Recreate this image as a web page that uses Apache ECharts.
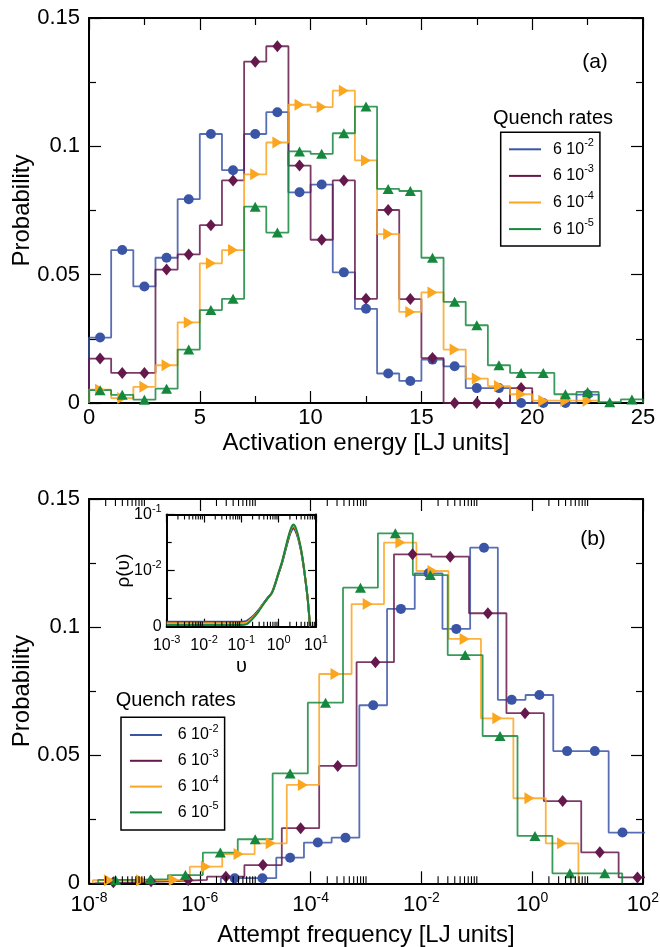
<!DOCTYPE html>
<html><head><meta charset="utf-8">
<script src="https://cdn.jsdelivr.net/npm/echarts@6/dist/echarts.min.js"></script>
<style>html,body{margin:0;padding:0;background:#fff}#c{width:660px;height:947px}</style>
</head><body><div id="c"></div>
<script>
// ---------- data ----------
const SERIES_NAMES = ['6 10^-2', '6 10^-3', '6 10^-4', '6 10^-5'];

// Panel (a): activation energy histograms (bin centres, LJ units)
const E_CENTERS = [0.5,1.5,2.5,3.5,4.5,5.5,6.5,7.5,8.5,9.5,10.5,11.5,12.5,13.5,14.5,15.5,16.5,17.5,18.5,19.5,20.5,21.5,22.5,23.5,24.5];
const A_BLUE   = [0.0255,0.0596,0.0454,0.0566,0.0794,0.1048,0.0907,0.1048,0.1133,0.0821,0.0851,0.0509,0.0367,0.0115,0.0086,0.0169,0.0143,0.0058,0.0058,0,0,0,0.0033];
const A_PURPLE = [0.0173,0.0117,0.0117,0.052,0.0579,0.0693,0.0867,0.133,0.139,0.0925,0.0636,0.0867,0.0406,0.0752,0.0405,0.0175,0,0,0,0.0058];
const A_ORANGE = [0.0052,0.0019,0.0063,0.0147,0.0314,0.0544,0.0596,0.0891,0.1015,0.1162,0.1153,0.1217,0.0945,0.0658,0.0355,0.0431,0.0208,0.0095,0.0066,0.0034,0.0009,0.0009,0.0009];
const A_GREEN  = [0.005,0.0032,0.0013,0.0056,0.0208,0.0362,0.0406,0.0765,0.0664,0.098,0.0971,0.1051,0.1155,0.0834,0.0826,0.0566,0.0394,0.0303,0.0147,0.0117,0.0117,0.0034,0.0043,0.0003,0.0014];

// Panel (b): attempt frequency histograms, bin centres as log10(frequency)
const B_BLUE_NU   = [-5.37,-4.87,-4.37,-3.87,-3.37,-2.87,-2.37,-1.87,-1.37,-0.87,-0.37,0.13,0.63,1.13,1.63,2.13];
const B_BLUE      = [0.002,0.002,0.010,0.0159,0.0178,0.0695,0.1071,0.121,0.0993,0.131,0.0716,0.0735,0.0516,0.0516,0.0198,0.0198];
const B_PURPLE_NU = [-7.56,-6.88,-6.21,-5.53,-4.86,-4.18,-3.51,-2.83,-2.16,-1.48,-0.80,-0.13,0.55,1.22,1.90];
const B_PURPLE    = [0.0004,0.0008,0.0013,0.0026,0.0071,0.0215,0.0458,0.0863,0.1284,0.1275,0.1054,0.0664,0.0321,0.0121,0.0023];
const B_ORANGE_NU = [-7.64,-7.06,-6.47,-5.89,-5.30,-4.72,-4.14,-3.55,-2.97,-2.38,-1.80,-1.22,-0.63,-0.05,0.54];
const B_ORANGE    = [0.0012,0.0012,0.0013,0.0065,0.0114,0.0156,0.0384,0.0817,0.109,0.133,0.1219,0.0954,0.0644,0.0332,0.0156];
const B_GREEN_NU  = [-7.52,-6.89,-6.26,-5.63,-5.00,-4.37,-3.73,-3.10,-2.47,-1.84,-1.21,-0.58,0.05,0.68,1.31];
const B_GREEN     = [0.0013,0.0016,0.0032,0.012,0.0172,0.0429,0.0705,0.1154,0.1366,0.1203,0.0891,0.0575,0.0185,0.0039,0.0039];

// Inset: rho(nu), log10 nu vs log10 rho
const INSET_NU     = [-3,-2,-1,-0.87,-0.7,-0.55,-0.45,-0.3,-0.185,-0.1,-0.01,0.09,0.17,0.25,0.31,0.36,0.395,0.44,0.49,0.53,0.6,0.66,0.72,0.78,0.84];
const INSET_BLUE   = [-2.91,-2.91,-2.91,-2.90,-2.82,-2.71,-2.62,-2.49,-2.40,-2.26,-2.07,-1.87,-1.67,-1.47,-1.34,-1.27,-1.25,-1.28,-1.36,-1.45,-1.65,-1.89,-2.19,-2.52,-3.0];
const INSET_PURPLE = [-2.93,-2.93,-2.93,-2.92,-2.83,-2.72,-2.63,-2.49,-2.40,-2.25,-2.06,-1.86,-1.65,-1.45,-1.31,-1.24,-1.23,-1.26,-1.34,-1.43,-1.64,-1.88,-2.18,-2.52,-3.0];
const INSET_ORANGE = [-2.94,-2.94,-2.94,-2.93,-2.84,-2.73,-2.63,-2.50,-2.40,-2.25,-2.05,-1.85,-1.64,-1.43,-1.30,-1.22,-1.21,-1.24,-1.32,-1.42,-1.63,-1.87,-2.18,-2.52,-3.0];
const INSET_GREEN  = [-2.97,-2.97,-2.97,-2.96,-2.86,-2.74,-2.64,-2.50,-2.40,-2.25,-2.05,-1.84,-1.63,-1.42,-1.28,-1.20,-1.18,-1.21,-1.30,-1.40,-1.62,-1.87,-2.18,-2.52,-3.0];

// tick labels
const A_X_TICKS = [0, 5, 10, 15, 20, 25];
const P_TICKS = ['0', '0.05', '0.1', '0.15'];
const B_X_DECADES = [-8, -6, -4, -2, 0, 2];
const MINOR_MULT = [2, 3, 4, 5, 6, 7, 8, 9, 10];
const INSET_DECADES = [-3, -2, -1, 0, 1];

// ---------- styling ----------
const FONT = 'Liberation Sans, Arial, Helvetica, sans-serif';
const COLORS = ['#3b55a6', '#65184c', '#fca51f', '#15883e'];
const SYMBOLS = ['circle', 'diamond', 'path://M0,0L10,6L0,12Z', 'triangle'];
const SYMSIZE = [10, [10, 12], [10, 12], [11, 10]];

const chart = echarts.init(document.getElementById('c'), null, {renderer: 'canvas'});

function outline(centers, vals) {
  const n = centers.length;
  const edges = [centers[0] - (centers[1] - centers[0]) / 2];
  for (let i = 1; i < n; i++) edges.push((centers[i - 1] + centers[i]) / 2);
  edges.push(centers[n - 1] + (centers[n - 1] - centers[n - 2]) / 2);
  const pts = [[edges[0], 0]];
  for (let i = 0; i < n; i++) { pts.push([edges[i], vals[i]]); pts.push([edges[i + 1], vals[i]]); }
  pts.push([edges[n], 0]);
  return pts;
}

const supRich = (fs, pad) => ({ s: { fontSize: fs, fontFamily: FONT, color: '#000', padding: [0, 0, pad, 0] } });

function axisCommon(extra) {
  return Object.assign({
    type: 'value',
    axisLine: { show: true, onZero: false, lineStyle: { color: '#000', width: 2 } },
    axisTick: { show: true, inside: true, length: 12, lineStyle: { color: '#000', width: 1.2 } },
    minorTick: { show: true, splitNumber: 2, length: 7, lineStyle: { color: '#000', width: 1.2 } },
    splitLine: { show: false },
    minorSplitLine: { show: false },
    nameMoveOverlap: false,
  }, extra);
}

const xAxes = [
  axisCommon({ gridIndex: 0, position: 'bottom', min: 0, max: 25, interval: 5,
    axisLabel: { show: true, fontSize: 22, fontFamily: FONT, color: '#000', margin: 4,
      formatter: v => String(A_X_TICKS[Math.round(v / 5)]) },
    name: 'Activation energy [LJ units]', nameLocation: 'middle', nameGap: 40,
    nameTextStyle: { fontSize: 24, fontFamily: FONT, color: '#000', verticalAlign: 'middle' } }),
  axisCommon({ gridIndex: 0, position: 'top', min: 0, max: 25, interval: 5, axisLabel: { show: false } }),
  axisCommon({ gridIndex: 1, position: 'bottom', min: -8, max: 2, interval: 2,
    minorTick: { show: false },
    axisLabel: { show: true, fontSize: 22, fontFamily: FONT, color: '#000', margin: 8, lineHeight: 28,
      formatter: v => '10{s|' + B_X_DECADES[Math.round((v + 8) / 2)] + '}', rich: supRich(14, 14) },
    name: 'Attempt frequency [LJ units]', nameLocation: 'middle', nameGap: 52,
    nameTextStyle: { fontSize: 24, fontFamily: FONT, color: '#000', verticalAlign: 'middle' } }),
  axisCommon({ gridIndex: 1, position: 'top', min: -8, max: 2, interval: 2, minorTick: { show: false }, axisLabel: { show: false } }),
  axisCommon({ gridIndex: 2, position: 'bottom', min: -3, max: 1, interval: 1,
    axisTick: { show: true, inside: true, length: 8, lineStyle: { color: '#000', width: 1.2 } },
    minorTick: { show: false },
    axisLabel: { show: true, fontSize: 16, fontFamily: FONT, color: '#000', margin: 8, lineHeight: 22,
      formatter: v => '10{s|' + INSET_DECADES[Math.round(v + 3)] + '}', rich: supRich(11, 11) },
    name: 'υ', nameLocation: 'middle', nameGap: 40,
    nameTextStyle: { fontSize: 20, fontFamily: FONT, color: '#000', verticalAlign: 'middle' } }),
  axisCommon({ gridIndex: 2, position: 'top', min: -3, max: 1, interval: 1,
    axisTick: { show: true, inside: true, length: 8, lineStyle: { color: '#000', width: 1.2 } },
    minorTick: { show: false }, axisLabel: { show: false } }),
];

const yAxes = [
  axisCommon({ gridIndex: 0, position: 'left', min: 0, max: 0.15, interval: 0.05,
    axisLabel: { show: true, fontSize: 22, fontFamily: FONT, color: '#000', margin: 9,
      formatter: v => P_TICKS[Math.round(v / 0.05)] },
    name: 'Probability', nameLocation: 'middle', nameGap: 67, nameRotate: 90,
    nameTextStyle: { fontSize: 24, fontFamily: FONT, color: '#000', verticalAlign: 'middle' } }),
  axisCommon({ gridIndex: 0, position: 'right', min: 0, max: 0.15, interval: 0.05, axisLabel: { show: false } }),
  axisCommon({ gridIndex: 1, position: 'left', min: 0, max: 0.15, interval: 0.05,
    axisLabel: { show: true, fontSize: 22, fontFamily: FONT, color: '#000', margin: 9,
      formatter: v => P_TICKS[Math.round(v / 0.05)] },
    name: 'Probability', nameLocation: 'middle', nameGap: 67, nameRotate: 90,
    nameTextStyle: { fontSize: 24, fontFamily: FONT, color: '#000', verticalAlign: 'middle' } }),
  axisCommon({ gridIndex: 1, position: 'right', min: 0, max: 0.15, interval: 0.05, axisLabel: { show: false } }),
  axisCommon({ gridIndex: 2, position: 'left', min: -3, max: -1, interval: 1,
    axisTick: { show: true, inside: true, length: 8, lineStyle: { color: '#000', width: 1.2 } },
    minorTick: { show: true, splitNumber: 2, length: 5, lineStyle: { color: '#000', width: 1.2 } },
    axisLabel: { show: true, fontSize: 16, fontFamily: FONT, color: '#000', margin: 5, lineHeight: 22,
      formatter: v => (Math.round(v) === -3 ? '0' : '10{s|' + Math.round(v) + '}'), rich: supRich(11, 11) },
    name: 'ρ(υ)', nameLocation: 'middle', nameGap: 43, nameRotate: 90,
    nameTextStyle: { fontSize: 19, fontFamily: FONT, color: '#000', verticalAlign: 'middle' } }),
  axisCommon({ gridIndex: 2, position: 'right', min: -3, max: -1, interval: 1,
    axisTick: { show: true, inside: true, length: 8, lineStyle: { color: '#000', width: 1.2 } },
    minorTick: { show: true, splitNumber: 2, length: 5, lineStyle: { color: '#000', width: 1.2 } },
    axisLabel: { show: false } }),
];

function minorTicks(decades, mult) {
  const out = [];
  decades.forEach(d => mult.forEach(k => out.push(d + Math.log10(k))));
  return out;
}
function tickSeries(xi, yi, ticks, yMin, yMax, len) {
  return {
    type: 'custom', xAxisIndex: xi, yAxisIndex: yi, silent: true, clip: false, z: 5,
    data: ticks.map(t => [t, yMin]),
    renderItem: (params, api) => {
      const x = api.value(0);
      const b = api.coord([x, yMin]);
      const t = api.coord([x, yMax]);
      return { type: 'group', children: [
        { type: 'line', shape: { x1: b[0], y1: b[1], x2: b[0], y2: b[1] - len }, style: { stroke: '#000', lineWidth: 1.1 } },
        { type: 'line', shape: { x1: t[0], y1: t[1], x2: t[0], y2: t[1] + len }, style: { stroke: '#000', lineWidth: 1.1 } },
      ] };
    },
  };
}

const series = [];
function addHist(xi, yi, centersList, valsList) {
  for (let i = 0; i < 4; i++) {
    const centers = centersList[i].slice(0, valsList[i].length);
    series.push({
      type: 'line', name: SERIES_NAMES[i], xAxisIndex: xi, yAxisIndex: yi,
      data: outline(centers, valsList[i]), symbol: 'none', silent: true, z: 2,
      lineStyle: { color: COLORS[i], width: 1.8, opacity: 0.85 }, itemStyle: { color: COLORS[i] },
      emphasis: { disabled: true },
    });
  }
  for (let i = 0; i < 4; i++) {
    const centers = centersList[i].slice(0, valsList[i].length);
    series.push({
      type: 'scatter', name: 'pts' + i, xAxisIndex: xi, yAxisIndex: yi, silent: true, z: 3,
      data: centers.map((c, j) => [c, valsList[i][j]]),
      symbol: SYMBOLS[i], symbolSize: SYMSIZE[i], itemStyle: { color: COLORS[i], opacity: 1 },
      emphasis: { disabled: true },
    });
  }
}
addHist(0, 0, [E_CENTERS, E_CENTERS, E_CENTERS, E_CENTERS], [A_BLUE, A_PURPLE, A_ORANGE, A_GREEN]);
addHist(2, 2, [B_BLUE_NU, B_PURPLE_NU, B_ORANGE_NU, B_GREEN_NU], [B_BLUE, B_PURPLE, B_ORANGE, B_GREEN]);

[INSET_BLUE, INSET_PURPLE, INSET_ORANGE, INSET_GREEN].forEach((ys, i) => {
  series.push({
    type: 'line', name: SERIES_NAMES[i], xAxisIndex: 4, yAxisIndex: 4, z: 2,
    data: INSET_NU.map((x, j) => [x, ys[j]]), symbol: 'none', smooth: 0.3, silent: true,
    lineStyle: { color: COLORS[i], width: 2 }, emphasis: { disabled: true },
  });
});

series.push(tickSeries(2, 2, minorTicks(B_X_DECADES.slice(0, 5), MINOR_MULT), 0, 0.15, 7));
series.push(tickSeries(4, 4, minorTicks(INSET_DECADES.slice(0, 4), MINOR_MULT.slice(0, 8)), -3, -1, 5));

const legendText = { fontFamily: FONT, fontSize: 16, color: '#000', lineHeight: 24,
  rich: { s: { fontSize: 11, fontFamily: FONT, color: '#000', padding: [0, 0, 13, 0] } } };
const legendFmt = name => name.replace('^', '{s|') + '}';

const option = {
  animation: false,
  backgroundColor: '#fff',
  grid: [
    { left: 89, top: 18, width: 554, height: 385, outerBoundsMode: 'none', containLabel: false },
    { left: 89, top: 499, width: 554, height: 384.3, outerBoundsMode: 'none', containLabel: false },
    { left: 166.7, top: 514.5, width: 149.3, height: 112.2, outerBoundsMode: 'none', containLabel: false },
  ],
  xAxis: xAxes,
  yAxis: yAxes,
  legend: [
    { data: SERIES_NAMES, orient: 'vertical', left: 500.7, top: 132.3, padding: [5, 6, 5, 8.3], itemGap: 2.6,
      icon: 'rect', itemWidth: 32, itemHeight: 2, borderColor: '#000', borderWidth: 1.5, selectedMode: false,
      formatter: legendFmt, textStyle: Object.assign({}, legendText, { padding: [0, 0, 0, 7] }) },
    { data: SERIES_NAMES, orient: 'vertical', left: 121, top: 717.3, padding: [5.7, 6, 5.7, 9], itemGap: 1.8,
      icon: 'rect', itemWidth: 32, itemHeight: 2, borderColor: '#000', borderWidth: 1.5, selectedMode: false,
      formatter: legendFmt, textStyle: Object.assign({}, legendText, { padding: [0, 0, 0, 10.7] }) },
  ],
  graphic: [
    { type: 'text', x: 553, y: 118.3, style: { text: 'Quench rates', fontSize: 20, fontFamily: FONT, fill: '#000', textAlign: 'center', textVerticalAlign: 'middle' } },
    { type: 'text', x: 175.7, y: 700.7, style: { text: 'Quench rates', fontSize: 20, fontFamily: FONT, fill: '#000', textAlign: 'center', textVerticalAlign: 'middle' } },
    { type: 'text', x: 595, y: 62, style: { text: '(a)', fontSize: 21, fontFamily: FONT, fill: '#000', textAlign: 'center', textVerticalAlign: 'middle' } },
    { type: 'text', x: 593, y: 539, style: { text: '(b)', fontSize: 21, fontFamily: FONT, fill: '#000', textAlign: 'center', textVerticalAlign: 'middle' } },
  ],
  series: series,
};
chart.setOption(option);
</script>
</body></html>
